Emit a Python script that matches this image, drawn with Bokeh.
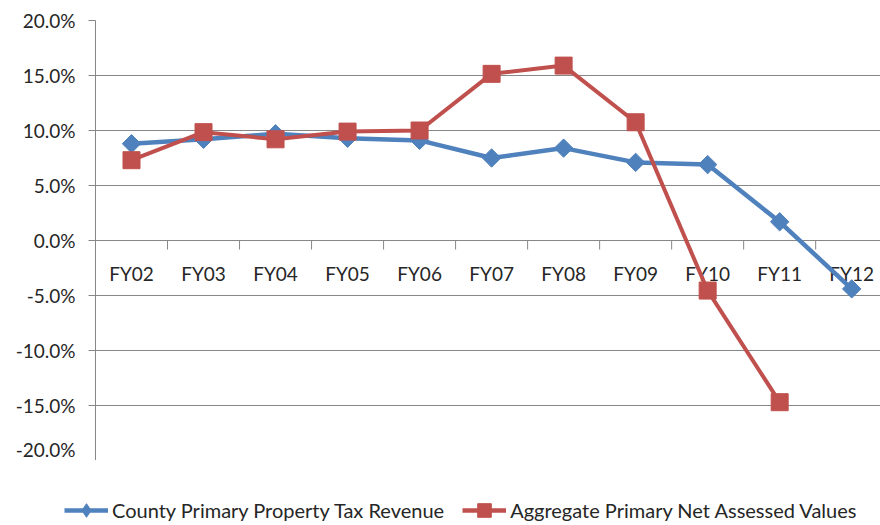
import math
from bokeh.plotting import figure
from bokeh.layouts import column
from bokeh.models import (Range1d, FixedTicker, Legend, LegendItem,
                          PrintfTickFormatter)
from bokeh.core.properties import value
from bokeh.embed import file_html
from bokeh.resources import INLINE

categories = ["FY02", "FY03", "FY04", "FY05", "FY06", "FY07", "FY08", "FY09", "FY10", "FY11", "FY12"]
tax_revenue = [8.8, 9.2, 9.7, 9.3, 9.1, 7.5, 8.4, 7.1, 6.9, 1.7, -4.4]
assessed_values = [7.3, 9.85, 9.2, 9.9, 10.0, 15.15, 15.9, 10.75, -4.55, -14.7, float("nan")]
y_ticks = [-20, -15, -10, -5, 0, 5, 10, 15, 20]
series_names = ["County Primary Property Tax Revenue", "Aggregate Primary Net Assessed Values"]

BLUE = "#4F81BD"
RED = "#C0504D"
GRID = "#878787"
TEXT = "#262626"
FONT = "Lato"

xs = [i + 0.5 for i in range(len(categories))]
boundaries = list(range(1, len(categories)))

# ---------------- main chart ----------------
p = figure(width=880, height=460, output_backend="svg", toolbar_location=None,
           x_range=Range1d(0, 10.9), y_range=Range1d(-20, 20),
           x_axis_type=None, min_border_left=95, min_border_right=0,
           min_border_top=20, min_border_bottom=0)
p.frame_align = False
p.outline_line_color = None
p.background_fill_color = "white"
p.border_fill_color = "white"

yax = p.yaxis[0]
yax.ticker = FixedTicker(ticks=y_ticks)
yax.formatter = PrintfTickFormatter(format="%.1f%%")
yax.axis_line_color = GRID
yax.major_tick_line_color = GRID
yax.major_tick_out = 7
yax.major_tick_in = 0
yax.minor_tick_line_color = None
yax.major_label_standoff = 13
yax.major_label_text_font = FONT
yax.major_label_text_font_size = "19px"
yax.major_label_text_color = TEXT
p.ygrid.ticker = FixedTicker(ticks=y_ticks)
p.ygrid.grid_line_color = GRID
p.ygrid.grid_line_width = 1

# tick marks between categories, hanging below the zero line
p.segment(x0=boundaries, y0=0, x1=boundaries, y1=-0.82, line_color=GRID, line_width=1)

# category labels along the zero line
p.text(x=xs, y=[0] * len(xs), text=categories, text_align="center", text_baseline="top",
       y_offset=21, text_font=value(FONT), text_font_size="19px", text_color=TEXT)

p.line(xs, tax_revenue, line_color=BLUE, line_width=4.5)
p.scatter(xs, tax_revenue, marker="square", angle=math.pi / 4, size=13,
          fill_color=BLUE, line_color=BLUE)
p.line(xs, assessed_values, line_color=RED, line_width=4)
p.scatter(xs, assessed_values, marker="square", size=17,
          fill_color=RED, line_color=RED)

# ---------------- legend strip ----------------
q = figure(width=880, height=65, output_backend="svg", toolbar_location=None,
           x_range=Range1d(0, 10.9), y_range=Range1d(1000, 1001),
           x_axis_type=None, y_axis_type=None, min_border=0)
q.frame_align = False
q.outline_line_color = None
q.grid.visible = False
q.background_fill_color = "white"
q.border_fill_color = "white"

k1 = q.line(xs, tax_revenue, line_color=BLUE, line_width=4.5)
s1 = q.scatter(xs, tax_revenue, marker="diamond", size=13,
               fill_color=BLUE, line_color=BLUE)
k2 = q.line(xs, assessed_values, line_color=RED, line_width=4.5)
s2 = q.scatter(xs, assessed_values, marker="square", size=17,
               fill_color=RED, line_color=RED)

legend = Legend(items=[LegendItem(label=series_names[0], renderers=[k1, s1]),
                       LegendItem(label=series_names[1], renderers=[k2, s2])],
                orientation="horizontal", location=(64, -2),
                glyph_width=44, glyph_height=34, label_standoff=4, spacing=18,
                label_text_font=FONT, label_text_font_size="20px",
                label_text_color=TEXT, border_line_color=None,
                background_fill_alpha=0, padding=0, margin=0)
q.add_layout(legend)

open("out.html", "w").write(file_html(column(p, q), INLINE))
